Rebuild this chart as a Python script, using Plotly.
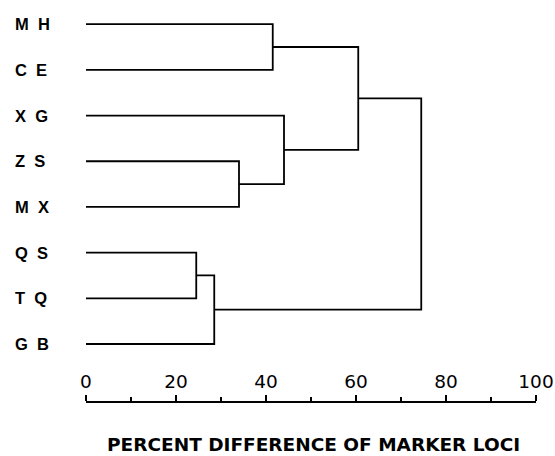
import plotly.graph_objects as go

leaf_labels = ["M\u00a0\u00a0H", "C\u00a0\u00a0E", "X\u00a0\u00a0G", "Z\u00a0\u00a0S",
               "M\u00a0\u00a0X", "Q\u00a0\u00a0S", "T\u00a0\u00a0Q", "G\u00a0\u00a0B"]
# linkage: leaves are nodes 0-7, merges create nodes 8..14
merge_left = [0, 3, 2, 8, 5, 12, 11]
merge_right = [1, 4, 9, 10, 6, 7, 13]
merge_dist = [41.5, 34, 44, 60.5, 24.5, 28.5, 74.5]
tick_vals = [0, 20, 40, 60, 80, 100]
axis_title = "PERCENT DIFFERENCE OF MARKER LOCI"

n = len(leaf_labels)
node_y = {i: float(i) for i in range(n)}
node_h = {i: 0.0 for i in range(n)}
xs, ys = [], []
for k, (a, b, d) in enumerate(zip(merge_left, merge_right, merge_dist)):
    xs += [node_h[a], d, d, node_h[b], None]
    ys += [node_y[a], node_y[a], node_y[b], node_y[b], None]
    node_y[n + k] = (node_y[a] + node_y[b]) / 2
    node_h[n + k] = d

fig = go.Figure(go.Scatter(x=xs, y=ys, mode="lines",
                           line=dict(color="black", width=1.8),
                           hoverinfo="skip", showlegend=False))

W, H = 555, 456
ml, mr, mt, mb = 86, 19, 10, 54
pw, ph = W - ml - mr, H - mt - mb

annos = []
for i, lab in enumerate(leaf_labels):
    annos.append(dict(text=lab, x=(13 - ml) / pw, xref="paper", xanchor="left",
                      y=i, yref="y", yanchor="middle", showarrow=False,
                      font=dict(family="Liberation Sans", size=16.5, color="black", weight="bold")))
annos.append(dict(text=axis_title, x=(313 - ml) / pw, xref="paper", xanchor="center",
                  y=-(444 - (mt + ph)) / ph, yref="paper", yanchor="middle", showarrow=False,
                  font=dict(family="DejaVu Sans", size=18.5, color="black", weight="bold")))

fig.update_layout(
    width=W, height=H, margin=dict(l=ml, r=mr, t=mt, b=mb, autoexpand=False),
    paper_bgcolor="white", plot_bgcolor="white",
    annotations=annos,
    xaxis=dict(range=[0, 100], side="top", anchor="free", position=0, automargin=False,
               showgrid=False, zeroline=False, showline=True,
               linecolor="black", linewidth=1.5, ticks="outside", ticklen=6,
               tickwidth=1.5, tickcolor="black", tickvals=tick_vals,
               ticklabelstandoff=0,
               tickfont=dict(family="DejaVu Sans", size=18.5, color="black"),
               minor=dict(ticks="outside", ticklen=4, tickwidth=1.5, tickcolor="black",
                          dtick=10, tick0=0, showgrid=False)),
    yaxis=dict(range=[8.27, -0.31], visible=False),
)
fig.write_html("out.html", config={"displayModeBar": False},
               post_script="document.body.style.margin='0';")
